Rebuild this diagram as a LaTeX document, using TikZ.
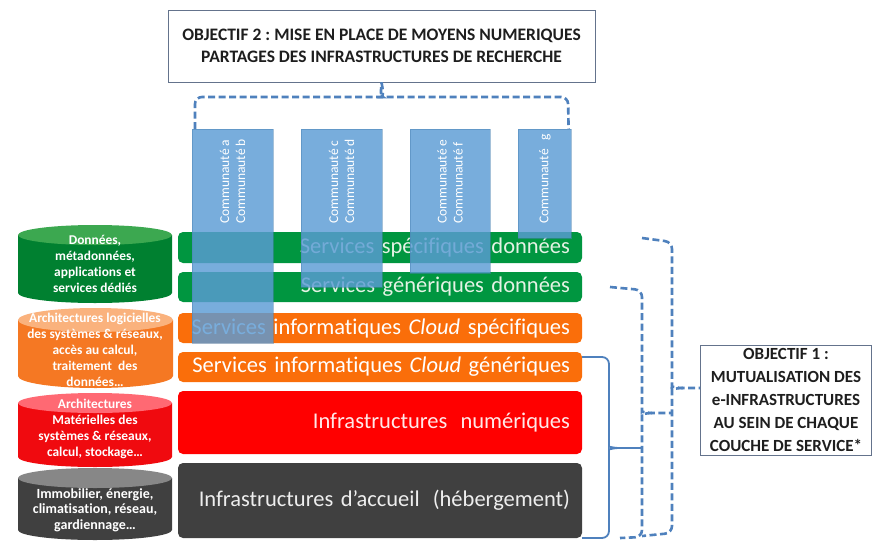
\documentclass[tikz,border=0pt]{standalone}
\usepackage{fontspec}
\setmainfont{Carlito}[Ligatures=NoCommon]
\frenchspacing
\definecolor{bline}{RGB}{79,129,189}
\definecolor{colblue}{RGB}{91,155,213}
\definecolor{lgreen}{RGB}{0,150,64}
\definecolor{cgreen}{RGB}{0,128,48}
\definecolor{cgreentop}{RGB}{60,168,80}
\definecolor{lorange}{RGB}{250,110,10}
\definecolor{corange}{RGB}{245,120,35}
\definecolor{corangetop}{RGB}{250,178,125}
\definecolor{lred}{RGB}{255,0,0}
\definecolor{cred}{RGB}{240,10,15}
\definecolor{credtop}{RGB}{255,105,115}
\definecolor{ldark}{RGB}{64,64,64}
\definecolor{cdarktop}{RGB}{135,135,135}
\definecolor{boxline}{RGB}{100,115,140}
\definecolor{txtdark}{RGB}{30,30,30}
\newcommand\drawcyl[7]{%
  \pgfmathsetmacro\cylrx{(#2-#1)/2}%
  \fill[#6] (#1,{#3+#5}) -- (#1,{#4-#5}) arc[start angle=180,end angle=360,x radius=\cylrx pt,y radius=#5pt] -- (#2,{#3+#5}) -- cycle;
  \fill[#7] ({(#1+#2)/2},{#3+#5}) ellipse[x radius=\cylrx pt, y radius=#5pt];
}
\tikzset{
  layer/.style={rectangle, rounded corners=5pt, minimum width=404pt, inner xsep=12pt, inner ysep=0pt,
    text width=380pt, align=right, font=\fontsize{22.5}{27}\selectfont},
  colbox/.style={rectangle, fill=colblue, fill opacity=0.82, draw=colblue!85!black, draw opacity=0.5,
    line width=0.6pt, minimum width=81pt, anchor=north west, inner sep=0pt},
  coltext/.style={rotate=90, anchor=west, align=left, text=white, inner sep=0pt,
    font=\fontsize{13.5}{16}\selectfont},
  cyltext/.style={align=center, text=white, inner sep=0pt, font=\bfseries\fontsize{13.4}{16}\selectfont},
  objbox/.style={draw=boxline, line width=0.8pt, fill=white, align=center, text=txtdark, inner sep=0pt},
  dbrace/.style={draw=bline, line width=2.6pt, dash pattern=on 7pt off 3.5pt, rounded corners=7pt},
  sbrace/.style={draw=bline, line width=1.8pt, rounded corners=7pt},
}
\begin{document}
\begin{tikzpicture}[x=1pt,y=-1pt]
\useasboundingbox (0,0) rectangle (873,541);
\fill[white] (0,0) rectangle (873,541);

% cylinders
\drawcyl{18}{172}{225}{303}{10}{cgreen}{cgreentop}
\drawcyl{18}{173}{308}{388}{12}{corange}{corangetop}
\drawcyl{18}{172}{393}{467}{10}{cred}{credtop}
\drawcyl{18}{172}{468}{540}{10}{ldark}{cdarktop}
\node[cyltext] (cy1) at (95,264) {Données,\\métadonnées,\\applications et\\services dédiés};
\node[cyltext] (cy2) at (95,350) {Architectures logicielles\\des systèmes \& réseaux,\\accès au calcul,\\traitement~ des\\données…};
\node[cyltext] (cy3) at (95,429) {Architectures\\Matérielles des\\systèmes \& réseaux,\\calcul, stockage…};
\node[cyltext, font=\bfseries\fontsize{14}{15.5}\selectfont] (cy4) at (95,510) {Immobilier, énergie,\\climatisation, réseau,\\gardiennage…};

% layers
\node[layer, fill=lgreen, minimum height=31pt, text={rgb,255:red,228;green,242;blue,228}] (g1) at (380,247.5) {Services spécifiques données};
\node[layer, fill=lgreen, minimum height=30pt, text={rgb,255:red,228;green,242;blue,228}] (g2) at (380,287) {Services génériques données};
\node[layer, fill=lorange, minimum height=30pt, text=white] (o1) at (380,328) {Services informatiques \emph{Cloud} spécifiques};
\node[layer, fill=lorange, minimum height=30pt, text=white] (o2) at (380,367) {Services informatiques \emph{Cloud} génériques};
\node[layer, fill=lred, minimum height=63pt, text={rgb,255:red,255;green,232;blue,232}] (r1) at (380,422.5) {Infrastructures\hspace{0.25em} numériques};
\node[layer, fill=ldark, minimum height=75pt, text={rgb,255:red,238;green,238;blue,238}] (d1) at (380,500.5) {Infrastructures d’accueil\hspace{0.25em} (hébergement)};

% community columns
\node[colbox, minimum height=214pt] (c1) at (192,129) {};
\node[colbox, minimum height=158pt] (c2) at (301,129) {};
\node[colbox, minimum height=144pt, minimum width=80pt] (c3) at (410,129) {};
\node[colbox, minimum height=109pt, minimum width=53pt] (c4) at (518,129) {};
\node[coltext] (t1) at (232.5,224) {Communauté a\\Communauté b};
\node[coltext] (t2) at (341.5,224) {Communauté c\\Communauté d};
\node[coltext] (t3) at (450,224) {Communauté e\\Communauté f};
\node[coltext] (t4) at (545,224) {Communauté\hspace{0.4em} g};

% objective boxes
\node[objbox, minimum width=427pt, minimum height=72pt, font=\bfseries\fontsize{17.5}{21.5}\selectfont] (obj2) at (381.5,46)
  {OBJECTIF 2 : MISE EN PLACE DE MOYENS NUMERIQUES\\PARTAGES DES INFRASTRUCTURES DE RECHERCHE};
\node[objbox, minimum width=171pt, minimum height=110pt, font=\bfseries\fontsize{17}{23}\selectfont] (obj1) at (786,400)
  {OBJECTIF 1 :\\MUTUALISATION DES\\e-INFRASTRUCTURES\\AU SEIN DE CHAQUE\\COUCHE DE SERVICE*};

% top brace (objective 2)
\coordinate (dL) at ([xshift=3pt]c1.north west);
\coordinate (dR) at ([xshift=-3pt]c4.north east);
\draw[dbrace] (dL) -- (195,97) -- (376,97) [sharp corners] .. controls (380,97) and (381,90) .. (obj2.south);
\draw[dbrace] (obj2.south) .. controls (383,90) and (384,97) .. (388,97) [rounded corners=7pt] -- (568,97) -- (dR);

% right braces (objective 1)
\coordinate (aT) at (582,357);
\coordinate (aB) at (582,538);
\coordinate (bT) at (610,287);
\coordinate (bB) at (620,538);
\coordinate (cT) at (642,238);
\coordinate (cB) at (642,536);
% solid brace A
\draw[sbrace] (aT) -- (609,357) -- (609,440) [sharp corners] .. controls (609,446) and (612,448) .. (620,448) -- (642,448);
\draw[sbrace] (620,448) .. controls (612,448) and (609,450) .. (609,456) [rounded corners=7pt] -- (609,538) -- (aB);
% dashed brace B
\draw[dbrace] (bT) -- (642,290) -- (642,405) [sharp corners] .. controls (642,411) and (645,413) .. (652,413) -- (672,413);
\draw[dbrace] (652,413) .. controls (645,413) and (642,415) .. (642,421) [rounded corners=7pt] -- (642,537) -- (bB);
% dashed brace C
\draw[dbrace] (cT) -- (672,242) -- (672,380) [sharp corners] .. controls (672,386) and (675,388) .. (683,388) -- (obj1.west |- 0,388);
\draw[dbrace] (683,388) .. controls (675,388) and (672,390) .. (672,396) [rounded corners=7pt] -- (672,533) -- (cB);
\end{tikzpicture}
\end{document}
